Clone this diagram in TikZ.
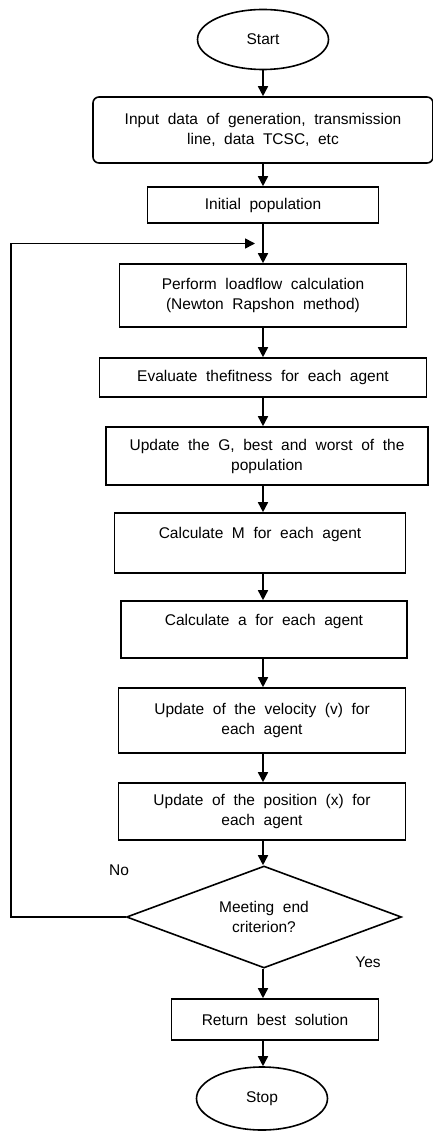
\documentclass[tikz,border=0pt]{standalone}
\usepackage{fontspec}
\setmainfont{Liberation Sans}[WordSpace=2]
\usetikzlibrary{positioning, shapes.geometric, arrows.meta, calc}
\tikzset{
->, % every connector gets a head
>={Triangle[width=10pt,length=10pt]}, % filled heads
every node/.style={font=\fontsize{15.5}{20}\selectfont},
process/.style={draw, rectangle, align=center, inner sep=2pt}, % the step boxes
terminal/.style={draw, ellipse, minimum width=131pt, minimum height=60pt},
decision/.style={draw, diamond, aspect=2.7, align=center, minimum width=275pt, minimum height=102pt, inner sep=0pt},
}
\begin{document}
\begin{tikzpicture}[node distance=90pt, on grid, auto, line width=1.6pt]
    \useasboundingbox (0,0) rectangle (432pt,-1131pt);

    \node[terminal] (start) at (263pt,-39.5pt) {Start};
    \node[process, rounded corners=6pt, minimum width=340pt, minimum height=66pt, below=90.5pt of start] (input) {Input data of generation, transmission\\line, data TCSC, etc};
    \node[process, minimum width=231pt, minimum height=36pt, below=75pt of input] (initial) {Initial population};
    \node[process, minimum width=287pt, minimum height=63pt, below=90.5pt of initial] (perform) {Perform loadflow calculation\\(Newton Rapshon method)};
    \node[process, minimum width=327pt, minimum height=39pt, below=82pt of perform] (fitness) {Evaluate thefitness for each agent};
    \node[process, minimum width=322pt, minimum height=58pt, below=78.5pt of fitness, xshift=4pt] (best) {Update the G, best and worst of the\\population};
    \node[process, minimum width=291pt, minimum height=60pt, below=87pt of best, xshift=-7pt] (mass) {Calculate M for each agent\\ ~};
    \node[process, minimum width=286pt, minimum height=57pt, below=86.5pt of mass, xshift=4pt] (accel) {Calculate a for each agent\\ ~};
    \node[process, minimum width=287pt, minimum height=65pt, below=91pt of accel, xshift=-2pt] (velocity) {Update of the velocity (v) for\\each agent};
    \node[process, minimum width=287pt, minimum height=57pt, below=91pt of velocity] (position) {Update of the position (x) for\\each agent};
    \node[decision, below=105.5pt of position, xshift=2pt] (end) {Meeting end\\criterion?};
    \node[process, minimum width=207pt, minimum height=41pt, below=102.5pt of end, xshift=11pt] (result) {Return best solution};
    \node[terminal, minimum height=63pt, below=79pt of result, xshift=-13pt] (stop) {Stop};

    \node[above left=47pt and 145pt of end] (no) {No};
    \node[below right=45pt and 104pt of end] (yes) {Yes};

    \coordinate (join) at ($(initial.south)!0.5!(perform.north)$);
    \coordinate (loopend) at ([xshift=-8pt]join);

    \path
    (start) edge (input)
    (input) edge (initial)
    (initial) edge (perform);

    \path
    (perform) edge (perform |- fitness.north)
    (fitness) edge (fitness |- best.north)
    (best.south -| fitness) edge (fitness |- mass.north)
    (mass.south -| fitness) edge (fitness |- accel.north)
    (accel.south -| fitness) edge (fitness |- velocity.north)
    (velocity.south -| fitness) edge (fitness |- position.north)
    (position.south -| fitness) edge (fitness |- end.north);

    \path
    (end.south -| fitness) edge (fitness |- result.north)
    (result.south -| fitness) edge (fitness |- stop.north);

    \draw (end.west) -- ++(-115pt,0) |- (loopend);
  \end{tikzpicture}
\end{document}
